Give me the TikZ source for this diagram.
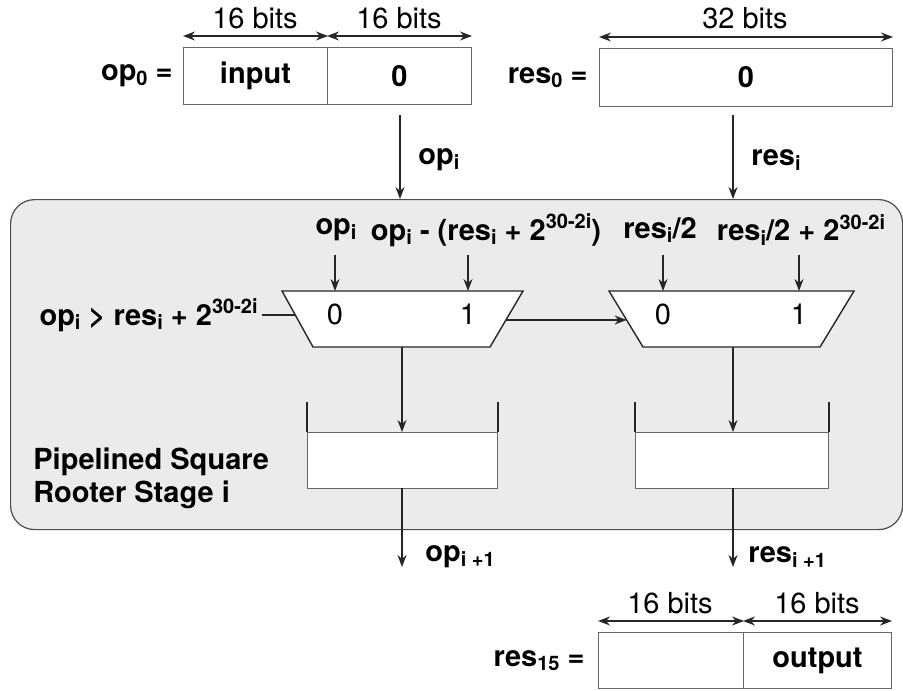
\documentclass[tikz,border=0pt]{standalone}
\usepackage{fontspec}
\setmainfont{TeX Gyre Heros}
\usetikzlibrary{arrows.meta,positioning}
\newcommand{\lo}[1]{\raisebox{-0.3ex}{\fontsize{10}{10}\selectfont #1}}
\newcommand{\hi}[1]{\raisebox{0.75ex}{\fontsize{10}{10}\selectfont #1}}
\tikzset{
  lbl/.style={font=\fontsize{14.5}{16.5}\selectfont\bfseries, inner sep=0pt},
  bits/.style={font=\fontsize{14.5}{16.5}\selectfont, inner sep=0pt},
  wire/.style={draw=black!85, line width=0.7pt},
  arr/.style={wire, -{Stealth[length=6pt,width=4.5pt]}},
  dim/.style={wire, {Stealth[length=6pt,width=4.5pt]}-{Stealth[length=6pt,width=4.5pt]}},
  field/.style={draw=black!60, line width=0.5pt, fill=white, inner sep=0pt, anchor=north west},
}
\begin{document}
\begin{tikzpicture}[x=0.5pt,y=-0.5pt]
\useasboundingbox (0,0) rectangle (903,690);
\node[draw=black!70, line width=0.6pt, fill=black!8, rounded corners=12pt, anchor=north west,
      minimum width=446pt, minimum height=165pt, inner sep=0pt] (stage) at (10,199) {};
\begin{scope}
\node[field, minimum width=72pt, minimum height=28.5pt, lbl] (inp) at (183,47) {input};
\node[field, minimum width=72pt, minimum height=28.5pt, lbl] (zero) at (327,47) {0};
\node[lbl, left=5pt of inp] (opz) {op\lo{0} =};
\draw[dim] ([yshift=5.5pt]inp.north west) -- ([yshift=5.5pt]inp.north east);
\draw[dim] ([yshift=5.5pt]zero.north west) -- ([yshift=5.5pt]zero.north east);
\node[bits] (binp) at (255,18) {16 bits};
\node[bits] (bzero) at (399,18) {16 bits};
\node[field, minimum width=146.5pt, minimum height=29pt, lbl] (resz) at (599,48) {0};
\node[lbl, left=5.5pt of resz] (resl) {res\lo{0} =};
\draw[dim] ([yshift=5.5pt]resz.north west) -- ([yshift=5.5pt]resz.north east);
\node[bits] (bres) at (745,18) {32 bits};
\end{scope}
\coordinate (opin) at (400,115);
\coordinate (resin) at (733,115);
\draw[arr] (opin) -- (opin |- stage.north);
\draw[arr] (resin) -- (resin |- stage.north);
\node[lbl, anchor=west] (opil) at (418,160) {op\lo{i}};
\node[lbl, anchor=west] (resil) at (751,160) {res\lo{i}};
\node[lbl] (ina) at (336,230) {op\lo{i}};
\node[lbl] (inb) at (486,230) {op\lo{i} - (res\lo{i} + 2\hi{30-2i})};
\node[lbl] (inc) at (660,230) {res\lo{i}/2};
\node[lbl] (ind) at (801,230) {res\lo{i}/2 + 2\hi{30-2i}};
\draw[wire, fill=white] (282,291) -- (523,291) -- (490,347) -- (313,347) -- cycle;
\draw[wire, fill=white] (609,291) -- (854,291) -- (820,347) -- (643,347) -- cycle;
\coordinate (la0) at (335,291);
\coordinate (la1) at (468,291);
\coordinate (ra0) at (663,291);
\coordinate (ra1) at (799,291);
\foreach \c/\t in {la0/0,la1/1,ra0/0,ra1/1}{
  \draw[arr] (\c) ++(0,-36) -- (\c);
  \node[bits] (\c t) at ([yshift=-11.5pt]\c) {\t};
}
\node[lbl, anchor=east] (sel) at (258,315) {op\lo{i} > res\lo{i} + 2\hi{30-2i}};
\coordinate (lsel) at (295.3,315);
\draw[wire] ([xshift=2pt]sel.east) -- (lsel);
\coordinate (lout) at (505.9,320);
\coordinate (rsel) at (626.6,320);
\draw[arr] (lout) -- (rsel);
\node[field, minimum width=95pt, minimum height=28pt] (lreg) at (307,432) {};
\node[field, minimum width=96.5pt, minimum height=28pt] (rreg) at (635,432) {};
\foreach \r in {lreg,rreg}{
  \draw[wire] (\r.north west) -- ++(0,-30);
  \draw[wire] (\r.north east) -- ++(0,-30);
}
\draw[arr] (402,347) -- (402,432);
\draw[arr] (733,347) -- (733,432);
\draw[arr] (402,488) -- (402,567);
\draw[arr] (733,488) -- (733,567);
\node[lbl, anchor=west] (opn) at (425,557) {op\lo{i +1}};
\node[lbl, anchor=west] (resn) at (748,557) {res\lo{i +1}};
\node[lbl, anchor=west, align=left, font=\fontsize{14.5}{16.5}\selectfont\bfseries] (name) at (33,478) {Pipelined Square\\Rooter Stage i};
\begin{scope}
\node[field, minimum width=72.5pt, minimum height=28pt] (hi15) at (598,632) {};
\node[field, minimum width=74pt, minimum height=28pt, lbl] (out) at (743,632) {output};
\node[lbl, left=6.5pt of hi15] (res15) {res\lo{15} =};
\draw[dim] ([yshift=5.5pt]hi15.north west) -- ([yshift=5.5pt]hi15.north east);
\draw[dim] ([yshift=5.5pt]out.north west) -- ([yshift=5.5pt]out.north east);
\node[bits] (bhi) at (670,603) {16 bits};
\node[bits] (bout) at (817,603) {16 bits};
\end{scope}
\end{tikzpicture}
\end{document}
